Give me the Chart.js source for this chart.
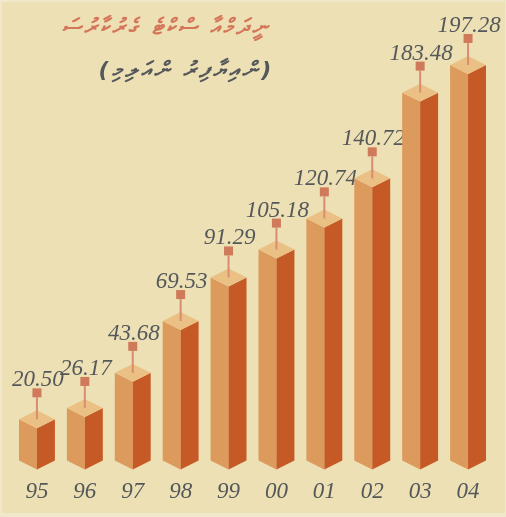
<!DOCTYPE html>
<html>
<head>
<meta charset="utf-8">
<script src="https://cdn.jsdelivr.net/npm/chart.js@4/dist/chart.umd.min.js"></script>
<style>
  html, body { margin: 0; padding: 0; background: #f1e8cc; }
  #wrap { position: relative; width: 506px; height: 517px; }
</style>
</head>
<body>
<div id="wrap"><canvas id="chart" width="506" height="517"></canvas></div>
<script>
const years = ['95', '96', '97', '98', '99', '00', '01', '02', '03', '04'];
const values = [20.50, 26.17, 43.68, 69.53, 91.29, 105.18, 120.74, 140.72, 183.48, 197.28];
const titleMain = 'ސަރުކާރުގެ ޓެކްސް އާމްދަނީ';
const titleSub = '(މިލިއަން ރުފިޔާއިން)';

const THEME = {
  bg: '#ede0b4',
  front: '#dc9a5c',
  side: '#c65a26',
  top: '#eac084',
  pin: '#d07a5c',
  stem: '#d98d70',
  text: '#55585a',
  title: '#d4765a'
};

// the original picture has its thaana laid out left-to-right,
// so draw letter clusters one by one instead of letting bidi reorder them
function drawLtrClusters(ctx, str, cx, y, gap) {
  const seg = new Intl.Segmenter(undefined, { granularity: 'grapheme' });
  const parts = [...seg.segment(str)].map(p => p.segment);
  const widths = parts.map(p => ctx.measureText(p).width);
  const total = widths.reduce((a, b) => a + b, 0) + gap * (parts.length - 1);
  let x = cx - total / 2;
  ctx.textAlign = 'left';
  parts.forEach((p, i) => {
    ctx.fillText(p, x, y);
    x += widths[i] + gap;
  });
}

const boxPlugin = {
  id: 'box3d',
  beforeDraw(chart) {
    const { ctx } = chart;
    ctx.save();
    ctx.fillStyle = THEME.bg;
    ctx.fillRect(2, 2, chart.width - 3, chart.height - 6);
    ctx.restore();
  },
  afterDatasetsDraw(chart) {
    const { ctx } = chart;
    const meta = chart.getDatasetMeta(0);
    ctx.save();
    meta.data.forEach((bar, i) => {
      const cx = bar.x;
      const hw = bar.width / 2;
      const s = hw / 2;           // slant of the iso faces
      const yt = bar.y;
      const yb = bar.base;

      // front (left) face
      ctx.fillStyle = THEME.front;
      ctx.beginPath();
      ctx.moveTo(cx - hw, yt - s);
      ctx.lineTo(cx, yt);
      ctx.lineTo(cx, yb);
      ctx.lineTo(cx - hw, yb - s);
      ctx.closePath();
      ctx.fill();

      // right face
      ctx.fillStyle = THEME.side;
      ctx.beginPath();
      ctx.moveTo(cx, yt);
      ctx.lineTo(cx + hw, yt - s);
      ctx.lineTo(cx + hw, yb - s);
      ctx.lineTo(cx, yb);
      ctx.closePath();
      ctx.fill();

      // top face
      ctx.fillStyle = THEME.top;
      ctx.beginPath();
      ctx.moveTo(cx - hw, yt - s);
      ctx.lineTo(cx, yt - 2 * s);
      ctx.lineTo(cx + hw, yt - s);
      ctx.lineTo(cx, yt);
      ctx.closePath();
      ctx.fill();

      // pin + value
      const topC = yt - s;
      const pinBottom = topC - 22;
      ctx.strokeStyle = THEME.stem;
      ctx.lineWidth = 2;
      ctx.beginPath();
      ctx.moveTo(cx, topC);
      ctx.lineTo(cx, pinBottom);
      ctx.stroke();
      ctx.fillStyle = THEME.pin;
      ctx.fillRect(cx - 4.5, pinBottom - 9, 9, 9);

      ctx.fillStyle = THEME.text;
      ctx.font = 'italic 23px "Liberation Serif"';
      ctx.textAlign = 'center';
      ctx.textBaseline = 'alphabetic';
      ctx.fillText(values[i].toFixed(2), cx + 1, pinBottom - 11);
    });
    ctx.restore();
  },
  afterDraw(chart) {
    const { ctx } = chart;
    ctx.save();
    ctx.textBaseline = 'alphabetic';
    ctx.font = 'bold italic 22px "DejaVu Sans"';
    ctx.fillStyle = THEME.title;
    drawLtrClusters(ctx, titleMain, 165, 34, 3);
    ctx.fillStyle = THEME.text;
    drawLtrClusters(ctx, titleSub, 185, 77, 3);
    ctx.restore();
  }
};

new Chart(document.getElementById('chart'), {
  type: 'bar',
  data: {
    labels: years,
    datasets: [{
      data: values,
      backgroundColor: 'rgba(0,0,0,0)',
      borderWidth: 0,
      categoryPercentage: 1,
      barPercentage: 0.75
    }]
  },
  options: {
    responsive: false,
    animation: false,
    layout: { padding: { top: 68.5, left: 13, right: 14, bottom: 3 } },
    plugins: {
      legend: { display: false },
      tooltip: { enabled: false },
      title: { display: false }
    },
    scales: {
      x: {
        grid: { display: false, drawTicks: false },
        border: { display: false },
        ticks: {
          color: THEME.text,
          padding: 8.5,
          font: { family: '"Liberation Serif"', style: 'italic', size: 23 }
        }
      },
      y: {
        display: false,
        min: 0,
        max: 200
      }
    }
  },
  plugins: [boxPlugin]
});
</script>
</body>
</html>
